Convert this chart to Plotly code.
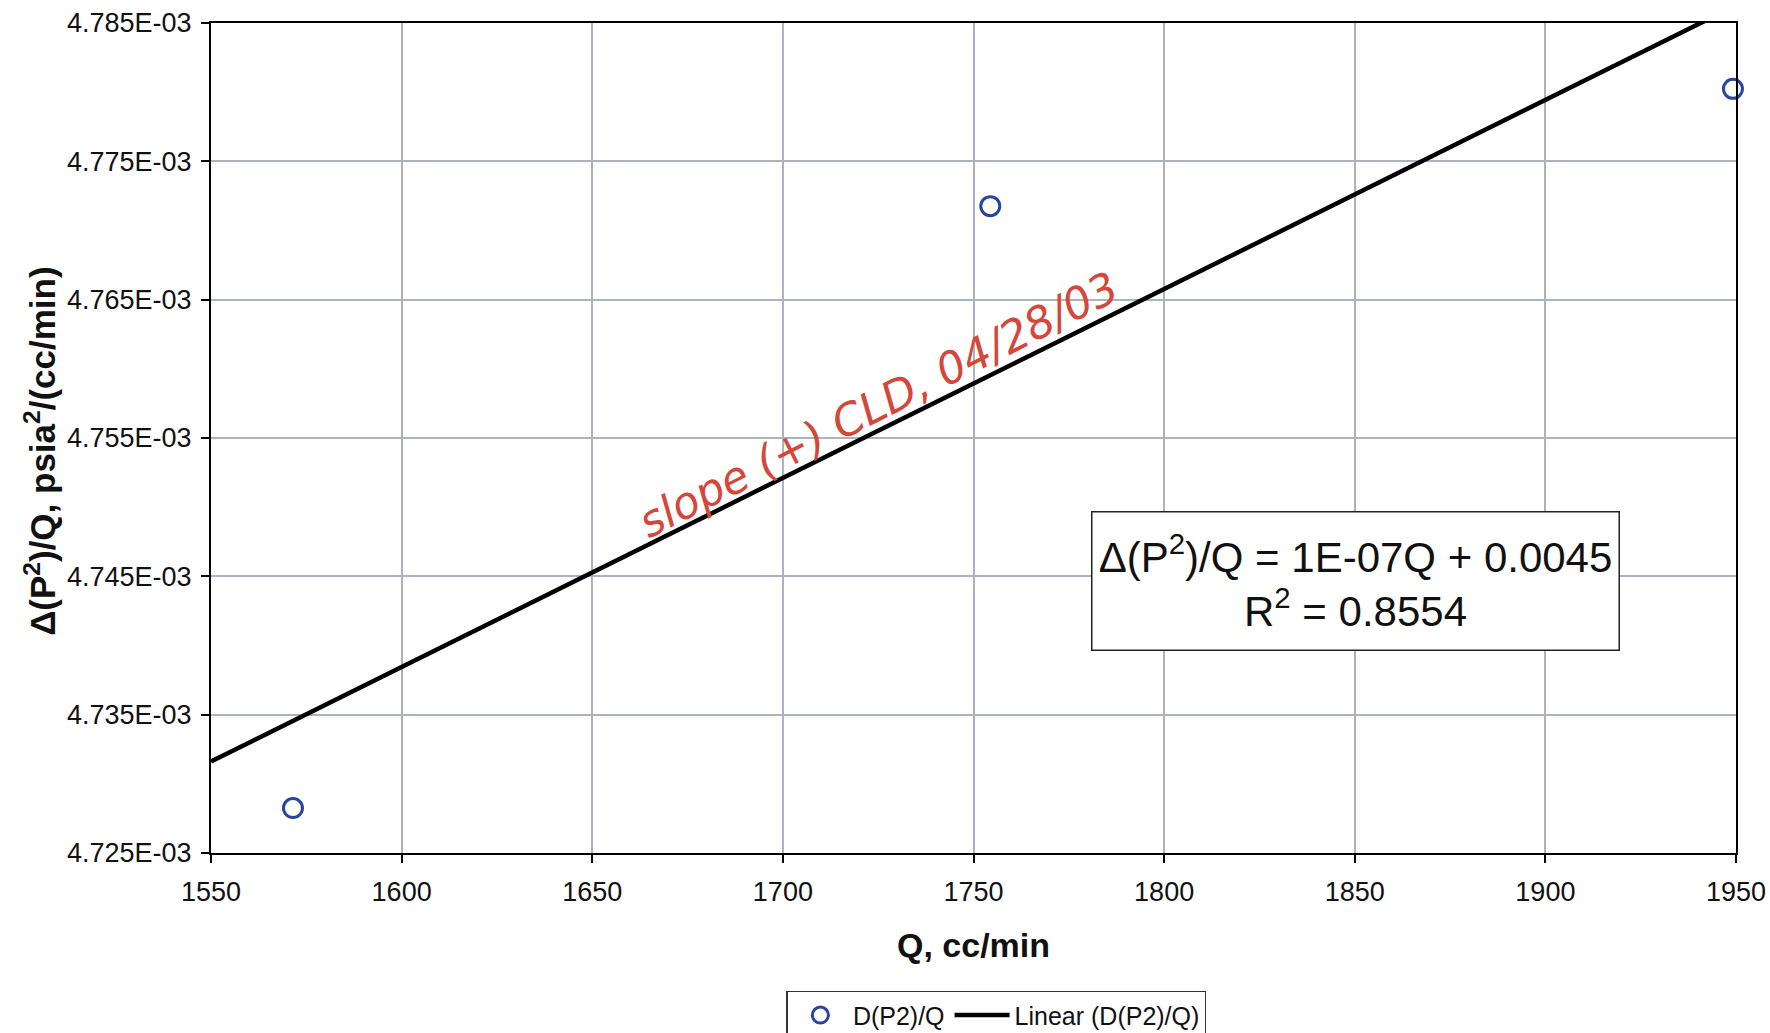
import numpy as np
import plotly.graph_objects as go

# Measured flow rate and pressure-squared drop per unit flow
q_flow = [1571.5, 1754.4, 1949.2]            # Q, cc/min
dp2_over_q = [4.72825e-3, 4.77176e-3, 4.78024e-3]  # Δ(P²)/Q, psia²/(cc/min)

series_name = "D(P2)/Q"
trend_name = "Linear (D(P2)/Q)"
fit_lines = ["Δ(P<sup>2</sup>)/Q = 1E-07Q + 0.0045", "R<sup>2</sup> = 0.8554"]
note_text = "slope (+) CLD, 04/28/03"
x_title = "Q, cc/min"
y_title = "Δ(P<sup>2</sup>)/Q, psia<sup>2</sup>/(cc/min)"

x_ticks = [1550, 1600, 1650, 1700, 1750, 1800, 1850, 1900, 1950]
y_ticks = [4.725e-3, 4.735e-3, 4.745e-3, 4.755e-3, 4.765e-3, 4.775e-3, 4.785e-3]
y_ticktext = [f"{v:.3E}" for v in y_ticks]

# Least-squares trendline across the full axis span
slope, intercept = np.polyfit(q_flow, dp2_over_q, 1)
trend_x = np.array([x_ticks[0], x_ticks[-1]], dtype=float)
trend_y = slope * trend_x + intercept

fig = go.Figure()
fig.add_trace(go.Scatter(
    x=trend_x, y=trend_y, mode="lines", name=trend_name,
    line=dict(color="black", width=4.5),
))
fig.add_trace(go.Scatter(
    x=q_flow, y=dp2_over_q, mode="markers", name=series_name,
    cliponaxis=False,
    marker=dict(symbol="circle-open", size=19, color="#2a44a0",
                line=dict(width=3, color="#2a44a0")),
))

# Trendline equation box
fig.add_annotation(
    x=0.7502, y=0.3279, xref="paper", yref="paper",
    xanchor="center", yanchor="middle",
    text="<br>".join(fit_lines), showarrow=False,
    font=dict(family="Liberation Sans, Arial", size=42, color="#111111"),
    align="center", bgcolor="white", bordercolor="#222222", borderwidth=1.5,
    width=520, height=131, borderpad=3,
)

# Red note written along the trendline
fig.add_annotation(
    x=1725, y=4.7574e-3, xref="x", yref="y",
    text=note_text, showarrow=False, textangle=-27,
    font=dict(family="DejaVu Sans", size=44, color="#d4473a",
              style="italic", weight=200),
)

# Rotated y-axis title
fig.add_annotation(
    x=-0.1121, y=0.4834, xref="paper", yref="paper",
    xanchor="center", yanchor="middle",
    text=y_title, showarrow=False, textangle=-90,
    font=dict(family="Liberation Sans, Arial", size=35, color="#111111", weight="bold"),
)

axis_font = dict(family="Liberation Sans, Arial", size=27, color="#111111")
title_font = dict(family="Liberation Sans, Arial", size=34, color="#111111", weight="bold")

fig.update_xaxes(
    range=[x_ticks[0], x_ticks[-1]], tickvals=x_ticks,
    ticks="outside", ticklen=8, tickwidth=1.5, tickcolor="black",
    showline=True, linecolor="black", linewidth=2, mirror=True,
    showgrid=True, gridcolor="#aeb2bd", gridwidth=1.5,
    zeroline=False, tickfont=axis_font, ticklabelstandoff=6,
    title=dict(text=x_title, font=title_font, standoff=27),
)
fig.update_yaxes(
    range=[y_ticks[0], y_ticks[-1]], tickvals=y_ticks, ticktext=y_ticktext,
    ticks="outside", ticklen=8, tickwidth=1.5, tickcolor="black",
    showline=True, linecolor="black", linewidth=2, mirror=True,
    showgrid=True, gridcolor="#aeb2bd", gridwidth=1.5,
    zeroline=False, tickfont=axis_font, ticklabelstandoff=4,
)

fig.update_layout(
    width=1770, height=1033,
    margin=dict(l=211, r=34, t=23, b=180, autoexpand=False),
    paper_bgcolor="white", plot_bgcolor="white",
    showlegend=True,
    legend=dict(
        orientation="h", x=0.515, y=-0.166, xanchor="center", yanchor="top",
        traceorder="reversed",
        bgcolor="white", bordercolor="#333333", borderwidth=1.5,
        font=dict(family="Liberation Sans, Arial", size=25, color="#111111"),
        itemwidth=55,
    ),
)

fig.write_html("out.html")
